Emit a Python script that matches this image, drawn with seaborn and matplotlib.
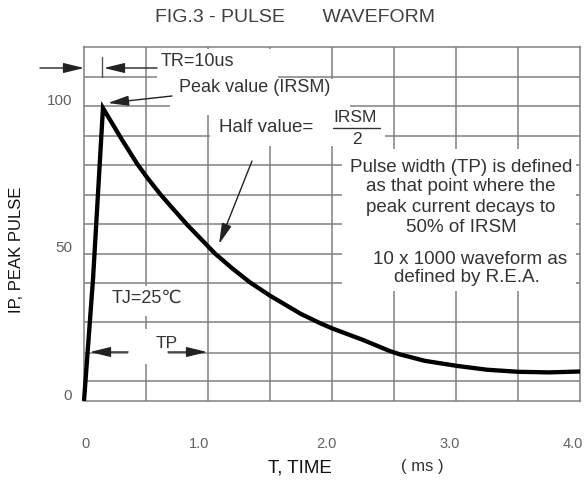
import matplotlib
matplotlib.use("Agg")
import matplotlib.pyplot as plt
import seaborn as sns
import pandas as pd
from matplotlib.patches import Rectangle
from matplotlib.transforms import IdentityTransform, ScaledTranslation
from matplotlib.lines import Line2D

# ---------------- data ----------------
time_ms = [0.0, 0.073, 0.153, 0.3, 0.427, 0.508, 0.613, 0.7, 0.831, 1.056, 1.2,
           1.339, 1.5, 1.75, 1.903, 2.008, 2.25, 2.468, 2.548, 2.75, 3.008,
           3.25, 3.5, 3.75, 4.0]
peak_pct = [0.0, 41.5, 99.3, 89.0, 80.5, 75.8, 70.2, 66.0, 59.8, 50.0, 44.8,
            40.2, 35.7, 29.5, 26.4, 24.5, 20.7, 16.9, 15.8, 13.6, 11.9,
            10.6, 9.9, 9.7, 10.0]

x_ticks = [0, 1, 2, 3, 4]
x_labels = ["0", "1.0", "2.0", "3.0", "4.0"]
y_ticks = [0, 50, 100]
y_labels = ["0", "50", "100"]
x_grid = [0.5, 1.0, 1.5, 2.0, 2.5, 3.0, 3.5]
y_grid = [6.8, 16.3, 26.8, 40, 50, 60, 70, 80, 90, 100, 110]

df = pd.DataFrame({"t": time_ms, "ip": peak_pct})

# ---------------- figure ----------------
sns.set_theme(style="white")
plt.rcParams["font.family"] = ["Liberation Sans", "DejaVu Sans"]

W, H = 587, 485
fig = plt.figure(figsize=(W / 100, H / 100), dpi=100)
ax = fig.add_axes([84 / W, 1 - 402 / H, 496 / W, 354 / H])

GRID = "#808080"
for gx in x_grid:
    ax.axvline(gx, color=GRID, lw=1.1, zorder=1)
for gy in y_grid:
    ax.axhline(gy, color=GRID, lw=1.1, zorder=1)

sns.lineplot(data=df, x="t", y="ip", ax=ax, color="black", lw=3.1,
             estimator=None, sort=False, zorder=4, clip_on=False)
for ln in ax.lines[-1:]:
    ln.set_solid_joinstyle("miter")
    ln.set_solid_capstyle("butt")

ax.set_xlim(0, 4)
ax.set_ylim(0, 120)
for s in ax.spines.values():
    s.set_color(GRID)
    s.set_linewidth(1.1)
    s.set_visible(True)

ax.set_xticks(x_ticks, x_labels)
ax.set_yticks(y_ticks, y_labels)
ax.tick_params(axis="both", length=0, labelsize=10.5, labelcolor="#606060")
ax.tick_params(axis="y", labelsize=11)
ax.tick_params(axis="x", pad=25)
ax.tick_params(axis="y", pad=8.5)
ax.set_xlabel("")
ax.set_ylabel("")
x_shift = [2, -9, -6, -6, -7]
for lab, dx in zip(ax.get_xticklabels(), x_shift):
    lab.set_transform(lab.get_transform() + ScaledTranslation(dx / 100, 0, fig.dpi_scale_trans))
for lab in ax.get_yticklabels():
    lab.set_transform(lab.get_transform() + ScaledTranslation(0, 8 / 100, fig.dpi_scale_trans))


def P(x, y):
    return (x, H - y)


# white masks behind annotation texts (as in the datasheet)
masks = [(157, 50, 278, 80), (170, 80, 350, 116), (210, 114, 385, 147),
         (342, 150, 576, 292), (100, 287, 195, 317), (128, 330, 168, 365)]
for x0, y0, x1, y1 in masks:
    ax.add_patch(Rectangle((x0, H - y1), x1 - x0, y1 - y0, transform=IdentityTransform(),
                           facecolor="white", edgecolor="none", zorder=1.5, clip_on=False))
ax.set_xlim(0, 4)
ax.set_ylim(0, 120)

TXT = "#333333"


def ftext(x, y, s, size=13, ha="left", color=TXT, **kw):
    fig.text(x / W, 1 - y / H, s, ha=ha, va="center", fontsize=size, color=color, **kw)


# titles / labels
ftext(295, 17, "FIG.3 - PULSE       WAVEFORM", size=14, ha="center", color="#404040")
ftext(17, 250, "IP, PEAK PULSE", size=12, ha="center", color="#111111", rotation=90)
ftext(300, 468, "T, TIME", size=13.5, ha="center", color="#111111")
ftext(422, 467, "( ms )", size=12, ha="center", color="#333333")

# annotations
ftext(161, 62, "TR=10us", size=13)
ftext(179, 88, "Peak value (IRSM)", size=13)
ftext(219, 128, "Half value=", size=13.5)
ftext(355, 118, "IRSM", size=12.5, ha="center")
ftext(357, 139, "2", size=12.5, ha="center")
fig.add_artist(Line2D([333 / W, 380 / W], [1 - 129 / H, 1 - 129 / H], color=TXT, lw=1.0))

pulse_lines = ["Pulse width (TP) is defined", "as that point where the",
               "peak current decays to", "50% of IRSM"]
for i, s in enumerate(pulse_lines):
    ftext(461, 167 + 20 * i, s, size=13.5, ha="center")
ftext(470, 259, "10 x 1000 waveform as", size=13.5, ha="center")
ftext(467, 278, "defined by R.E.A.", size=13.5, ha="center")
ftext(112, 298, "TJ=25℃", size=13)
ftext(156, 343, "TP", size=12.5)

arrow_kw = dict(arrowstyle="-|>,head_length=0.9,head_width=0.22", color="#222222",
                lw=1.0, mutation_scale=14, shrinkA=0, shrinkB=0)
arrows = [((40, 69), (84, 69)), ((157, 69), (104, 69)),
          ((172, 97), (108, 104)), ((252, 162), (219, 245)),
          ((128, 353), (90, 353)), ((168, 353), (207, 353))]
for (x0, y0), (x1, y1) in arrows:
    ax.annotate("", xy=P(x1, y1), xytext=P(x0, y0), xycoords="figure pixels",
                textcoords="figure pixels", arrowprops=arrow_kw,
                annotation_clip=False, zorder=5)
fig.add_artist(Line2D([102 / W, 102 / W], [1 - 58 / H, 1 - 78 / H], color="#555555", lw=1.0))

fig.savefig("out.png", dpi=100)
